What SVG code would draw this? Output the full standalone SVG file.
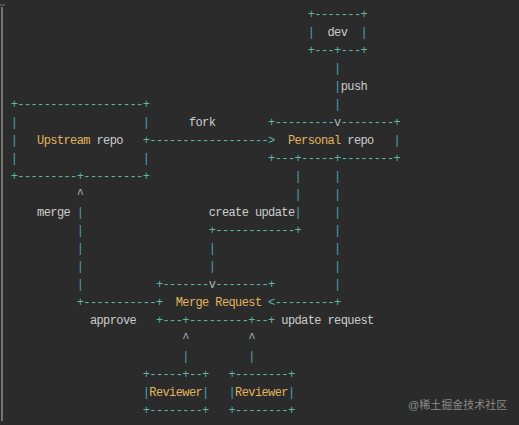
<svg xmlns="http://www.w3.org/2000/svg" width="519" height="425" viewBox="0 0 519 425">
<style>
text{font-family:"Liberation Mono","DejaVu Sans Mono",monospace;font-size:12px;letter-spacing:-0.6px;white-space:pre}
.b{fill:#5cb8a6}
.p{fill:#4ca3b6}
.l{fill:#cdcdcd}
.o{fill:#e2b45e}
.a{fill:#a9b7bd}
.wm{font-family:"Liberation Sans","Noto Sans CJK SC",sans-serif;font-size:11px;letter-spacing:0;fill:#8a8a8a}
</style>
<rect width="519" height="425" fill="#2b2b2b"/>
<line x1="2" y1="7" x2="2" y2="421" stroke="#8c8c8c" stroke-width="1.5"/>
<line x1="0" y1="5" x2="5" y2="5" stroke="#777" stroke-width="1"/>

<g id="dev">
<text x="307.7" y="18" class="b">+-------+</text>
<text x="307.7" y="36" class="p">|</text>
<text x="327.5" y="36" class="l">dev</text>
<text x="360.5" y="36" class="p">|</text>
<text x="307.7" y="54" class="b">+---+---+</text>
</g>

<g id="upstream">
<text x="10.7" y="108" class="b">+-------------------+</text>
<text x="10.7" y="126" class="p">|</text>
<text x="142.7" y="126" class="p">|</text>
<text x="10.7" y="144" class="p">|</text>
<text x="37.1" y="144" class="o">Upstream</text>
<text x="96.5" y="144" class="l">repo</text>
<text x="10.7" y="162" class="p">|</text>
<text x="142.7" y="162" class="p">|</text>
<text x="10.7" y="180" class="b">+---------+---------+</text>
</g>

<g id="personal">
<text x="268.1" y="126" class="b">+---------</text>
<text x="334.1" y="126" class="a">v</text>
<text x="340.7" y="126" class="b">--------+</text>
<text x="287.9" y="144" class="o">Personal</text>
<text x="347.3" y="144" class="l">repo</text>
<text x="393.5" y="144" class="p">|</text>
<text x="268.1" y="162" class="b">+---+-----+--------+</text>
</g>

<g id="merge-request">
<text x="155.9" y="288" class="b">+-------</text>
<text x="208.7" y="288" class="a">v</text>
<text x="215.3" y="288" class="b">--------+</text>
<text x="175.7" y="306" class="o">Merge Request</text>
<text x="155.9" y="324" class="b">+---+---------+--+</text>
</g>

<g id="reviewer1">
<text x="142.7" y="378" class="b">+-----+--+</text>
<text x="142.7" y="396" class="p">|</text>
<text x="149.3" y="396" class="o">Reviewer</text>
<text x="202.1" y="396" class="p">|</text>
<text x="142.7" y="414" class="b">+--------+</text>
</g>

<g id="reviewer2">
<text x="228.5" y="378" class="b">+--------+</text>
<text x="228.5" y="396" class="p">|</text>
<text x="235.1" y="396" class="o">Reviewer</text>
<text x="287.9" y="396" class="p">|</text>
<text x="228.5" y="414" class="b">+--------+</text>
</g>

<g id="connectors">
<!-- push -->
<text x="334.1" y="72" class="p">|</text>
<text x="334.1" y="90" class="p">|</text>
<text x="340.7" y="90" class="l">push</text>
<text x="334.1" y="108" class="p">|</text>
<!-- fork -->
<text x="188.9" y="126" class="l">fork</text>
<text x="142.7" y="144" class="b">+------------------&gt;</text>
<!-- merge -->
<text x="76.7" y="198" class="a">^</text>
<text x="37.1" y="216" class="l">merge</text>
<text x="76.7" y="216" class="p">|</text>
<text x="76.7" y="234" class="p">|</text>
<text x="76.7" y="252" class="p">|</text>
<text x="76.7" y="270" class="p">|</text>
<text x="76.7" y="288" class="p">|</text>
<text x="76.7" y="306" class="b">+-----------+</text>
<!-- create update -->
<text x="294.5" y="180" class="p">|</text>
<text x="294.5" y="198" class="p">|</text>
<text x="208.7" y="216" class="l">create update</text>
<text x="294.5" y="216" class="p">|</text>
<text x="208.7" y="234" class="b">+------------+</text>
<text x="208.7" y="252" class="p">|</text>
<text x="208.7" y="270" class="p">|</text>
<!-- update request -->
<text x="334.1" y="180" class="p">|</text>
<text x="334.1" y="198" class="p">|</text>
<text x="334.1" y="216" class="p">|</text>
<text x="334.1" y="234" class="p">|</text>
<text x="334.1" y="252" class="p">|</text>
<text x="334.1" y="270" class="p">|</text>
<text x="334.1" y="288" class="p">|</text>
<text x="268.1" y="306" class="b">&lt;---------+</text>
<text x="281.3" y="324" class="l">update request</text>
<!-- approve -->
<text x="89.9" y="324" class="l">approve</text>
<text x="182.3" y="342" class="a">^</text>
<text x="248.3" y="342" class="a">^</text>
<text x="182.3" y="360" class="p">|</text>
<text x="248.3" y="360" class="p">|</text>
</g>

<text x="408" y="409" class="wm">@稀土掘金技术社区</text>
</svg>
